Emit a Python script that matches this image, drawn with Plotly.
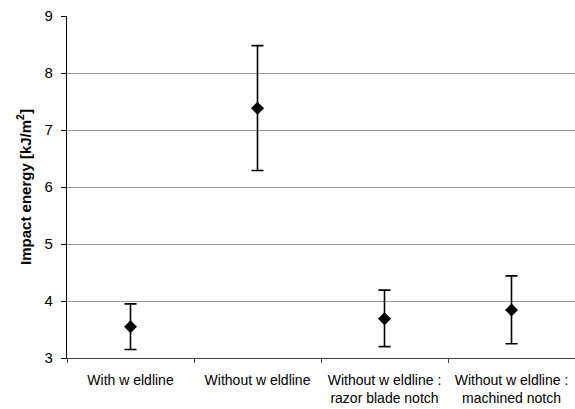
import plotly.graph_objects as go

categories = ["With w eldline", "Without w eldline", "Without w eldline :<br>razor blade notch", "Without w eldline :<br>machined notch"]
mean_energy = [3.55, 7.38, 3.69, 3.84]
err_upper = [3.95, 8.48, 4.19, 4.44]
err_lower = [3.15, 6.29, 3.20, 3.25]
y_ticks = [3, 4, 5, 6, 7, 8, 9]

plus = [u - m for u, m in zip(err_upper, mean_energy)]
minus = [m - l for m, l in zip(mean_energy, err_lower)]

fig = go.Figure()
fig.add_trace(go.Scatter(
    x=categories, y=mean_energy, mode="markers",
    marker=dict(symbol="diamond", size=10, color="black"),
    error_y=dict(type="data", symmetric=False, array=plus, arrayminus=minus,
                 color="black", thickness=1.6, width=6),
    showlegend=False,
))

fig.update_layout(
    width=575, height=409,
    margin=dict(l=67, r=0, t=16, b=51),
    paper_bgcolor="white", plot_bgcolor="white",
    font=dict(family="Liberation Sans, Arial, sans-serif", size=13, color="black"),
    xaxis=dict(range=[-0.5, 3.5], showgrid=False, showline=True, linecolor="#444", linewidth=1,
               ticks="outside", ticklen=4, tickcolor="#444", ticklabelstandoff=9,
               tickson="boundaries", tickfont=dict(size=14)),
    yaxis=dict(range=[3, 9], tickvals=y_ticks, showgrid=True, gridcolor="#999",
               gridwidth=1, showline=True, linecolor="black", linewidth=1.2,
               ticks="outside", ticklen=5, tickcolor="black", zeroline=False,
               ticklabelstandoff=5, tickfont=dict(size=15),
               title=dict(text="<b>Impact energy [kJ/m<sup>2</sup>]</b>", font=dict(size=15), standoff=9)),
)

fig.write_html("out.html", config={"displayModeBar": False},
               post_script="document.body.style.margin='0';")
